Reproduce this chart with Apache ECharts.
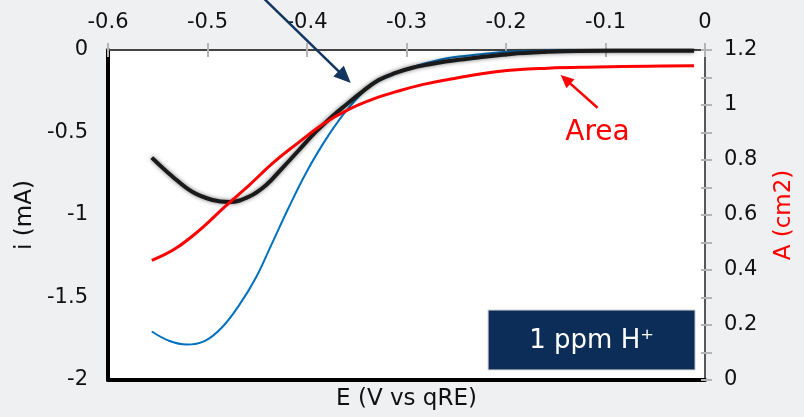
<!DOCTYPE html>
<html><head><meta charset="utf-8">
<script src="https://cdn.jsdelivr.net/npm/echarts@6/dist/echarts.min.js"></script>
<style>html,body{margin:0;padding:0;background:#eef0f2}#c{width:804px;height:417px}</style>
</head><body><div id="c"></div>
<script>
// Measured current (black, data)
const dataE = [-0.556,-0.535,-0.515,-0.495,-0.478,-0.458,-0.441,-0.425,-0.408,-0.391,-0.375,-0.361,-0.345,-0.328,-0.311,-0.295,-0.278,-0.261,-0.245,-0.228,-0.195,-0.161,-0.128,-0.058,-0.011];
const dataI = [-0.652,-0.768,-0.861,-0.909,-0.921,-0.888,-0.818,-0.717,-0.606,-0.495,-0.404,-0.333,-0.255,-0.182,-0.139,-0.109,-0.088,-0.070,-0.058,-0.045,-0.024,-0.012,-0.006,-0.005,-0.005];
// Model current (blue)
const modelE = [-0.556,-0.538,-0.521,-0.503,-0.486,-0.468,-0.451,-0.435,-0.418,-0.401,-0.383,-0.368,-0.353,-0.336,-0.318,-0.298,-0.278,-0.258,-0.228,-0.193,-0.148,-0.088,-0.011];
const modelI = [-1.706,-1.764,-1.785,-1.764,-1.685,-1.545,-1.376,-1.170,-0.950,-0.745,-0.560,-0.426,-0.315,-0.218,-0.160,-0.112,-0.076,-0.048,-0.027,-0.009,-0.002,0,0];
// Area (red, right axis)
const areaE = [-0.556,-0.533,-0.508,-0.483,-0.458,-0.433,-0.408,-0.383,-0.358,-0.333,-0.308,-0.283,-0.258,-0.208,-0.158,-0.108,-0.058,-0.011];
const areaA = [0.435,0.476,0.545,0.629,0.709,0.793,0.865,0.933,0.984,1.022,1.051,1.075,1.093,1.122,1.134,1.138,1.141,1.143];

const pair = (xs, ys) => xs.map((x, k) => [x, ys[k]]);
const FONT = 'DejaVu Sans';
const chart = echarts.init(document.getElementById('c'), null, {renderer: 'canvas'});

chart.setOption({
  animation: false,
  backgroundColor: '#eef0f2',
  textStyle: {fontFamily: FONT},
  grid: {left: 108, right: 94, top: 50, bottom: 37, show: true, backgroundColor: '#ffffff', borderWidth: 0},
  xAxis: [
    {type: 'value', position: 'top', min: -0.6, max: 0, interval: 0.1,
     axisLine: {onZero: false, lineStyle: {color: '#444', width: 2}},
     axisTick: {show: true, length: 7, lineStyle: {color: '#b5b5b5', width: 2}},
     axisLabel: {color: '#111', fontSize: 21, fontFamily: FONT, margin: 17},
     splitLine: {show: false}},
    {type: 'value', position: 'top', min: -0.6, max: 0, interval: 0.1,
     axisLine: {show: false},
     axisTick: {show: true, inside: true, length: 7, lineStyle: {color: '#b5b5b5', width: 2}},
     axisLabel: {show: false}, splitLine: {show: false}},
    {type: 'value', position: 'bottom', min: -0.6, max: 0, interval: 0.1,
     axisLine: {onZero: false, lineStyle: {color: '#000', width: 4}},
     axisTick: {show: false}, axisLabel: {show: false}, splitLine: {show: false},
     name: 'E (V vs qRE)', nameLocation: 'middle', nameGap: 8,
     nameTextStyle: {color: '#111', fontSize: 23, fontFamily: FONT, verticalAlign: 'top'}}
  ],
  yAxis: [
    {type: 'value', position: 'left', min: -2, max: 0, interval: 0.5,
     axisLine: {show: true, onZero: false, lineStyle: {color: '#000', width: 4}},
     axisTick: {show: false},
     axisLabel: {color: '#111', fontSize: 21, fontFamily: FONT, margin: 20},
     splitLine: {show: false},
     name: 'i (mA)', nameLocation: 'middle', nameGap: 71, nameRotate: 90,
     nameTextStyle: {color: '#111', fontSize: 23, fontFamily: FONT}},
    {type: 'value', position: 'right', min: 0, max: 1.2, interval: 0.2,
     axisLine: {show: true, onZero: false, lineStyle: {color: '#222', width: 1.5}},
     axisTick: {show: true, length: 7, lineStyle: {color: '#b5b5b5', width: 2}},
     minorTick: {show: true, splitNumber: 2, length: 7, lineStyle: {color: '#b5b5b5', width: 2}},
     axisLabel: {color: '#111', fontSize: 21, fontFamily: FONT, margin: 19},
     splitLine: {show: false}, minorSplitLine: {show: false},
     name: 'A (cm2)', nameLocation: 'middle', nameGap: 68, nameRotate: 90,
     nameTextStyle: {color: '#ff0000', fontSize: 23, fontFamily: FONT}},
    {type: 'value', position: 'right', min: 0, max: 1.2, interval: 0.1,
     axisLine: {show: false},
     axisTick: {show: true, inside: true, length: 4, lineStyle: {color: '#b5b5b5', width: 2}},
     axisLabel: {show: false}, splitLine: {show: false}}
  ],
  series: [
    {name: 'model', type: 'line', xAxisIndex: 0, yAxisIndex: 0, data: pair(modelE, modelI),
     smooth: 0.4, smoothConstraint: false, showSymbol: false, lineStyle: {color: '#0070c0', width: 2}, z: 2},
    {name: 'data', type: 'line', xAxisIndex: 0, yAxisIndex: 0, data: pair(dataE, dataI),
     smooth: 0.4, smoothConstraint: false, showSymbol: false,
     lineStyle: {color: '#1a1a1a', width: 4, shadowColor: 'rgba(0,0,0,0.55)', shadowBlur: 4}, z: 3},
    {name: 'area', type: 'line', xAxisIndex: 0, yAxisIndex: 1, data: pair(areaE, areaA),
     smooth: 0.4, smoothConstraint: false, showSymbol: false, lineStyle: {color: '#ff0000', width: 3}, z: 4}
  ]
});

function arrow(p0, p1, color, lw, hl, hw) {
  const dx = p1[0] - p0[0], dy = p1[1] - p0[1];
  const len = Math.sqrt(dx * dx + dy * dy);
  const ux = dx / len, uy = dy / len;
  const bx = p1[0] - ux * hl, by = p1[1] - uy * hl;
  const px = -uy, py = ux;
  return [
    {type: 'line', shape: {x1: p0[0], y1: p0[1], x2: bx + ux * 2, y2: by + uy * 2},
     style: {stroke: color, lineWidth: lw}, z: 100},
    {type: 'polygon', shape: {points: [[p1[0], p1[1]], [bx + px * hw / 2, by + py * hw / 2], [bx - px * hw / 2, by - py * hw / 2]]},
     style: {fill: color}, z: 100}
  ];
}
const px = e => chart.convertToPixel({xAxisIndex: 0}, e);
const pyL = v => chart.convertToPixel({yAxisIndex: 0}, v);
const pyR = v => chart.convertToPixel({yAxisIndex: 1}, v);
const L = (e, v) => [px(e), pyL(v)];
const R = (e, v) => [px(e), pyR(v)];

const navyStart = L(-0.443, 0.31), navyTip = L(-0.356, -0.2);
const redStart = R(-0.108, 0.99), redTip = R(-0.145, 1.109);
const areaTxt = R(-0.108, 0.90);
const boxTL = L(-0.218, -1.576), boxBR = L(-0.010, -1.939);

chart.setOption({
  graphic: [].concat(
    arrow(navyStart, navyTip, '#12365f', 2.5, 17, 15),
    arrow(redStart, redTip, '#ff0000', 2.5, 13, 12),
    [
      {type: 'text', x: areaTxt[0], y: areaTxt[1], z: 100,
       style: {text: 'Area', fill: '#ff0000', font: '28px "DejaVu Sans"', align: 'center', verticalAlign: 'middle'}},
      {type: 'rect', shape: {x: boxTL[0], y: boxTL[1], width: boxBR[0] - boxTL[0], height: boxBR[1] - boxTL[1]},
       style: {fill: '#0b2d58', stroke: '#d0d0d0', lineWidth: 1}, z: 100},
      {type: 'text', x: (boxTL[0] + boxBR[0]) / 2, y: (boxTL[1] + boxBR[1]) / 2 + 1, z: 101,
       style: {text: '1 ppm H\u207A', fill: '#ffffff', font: '26px "DejaVu Sans"', align: 'center', verticalAlign: 'middle'}}
    ]
  )
});
</script>
</body></html>
